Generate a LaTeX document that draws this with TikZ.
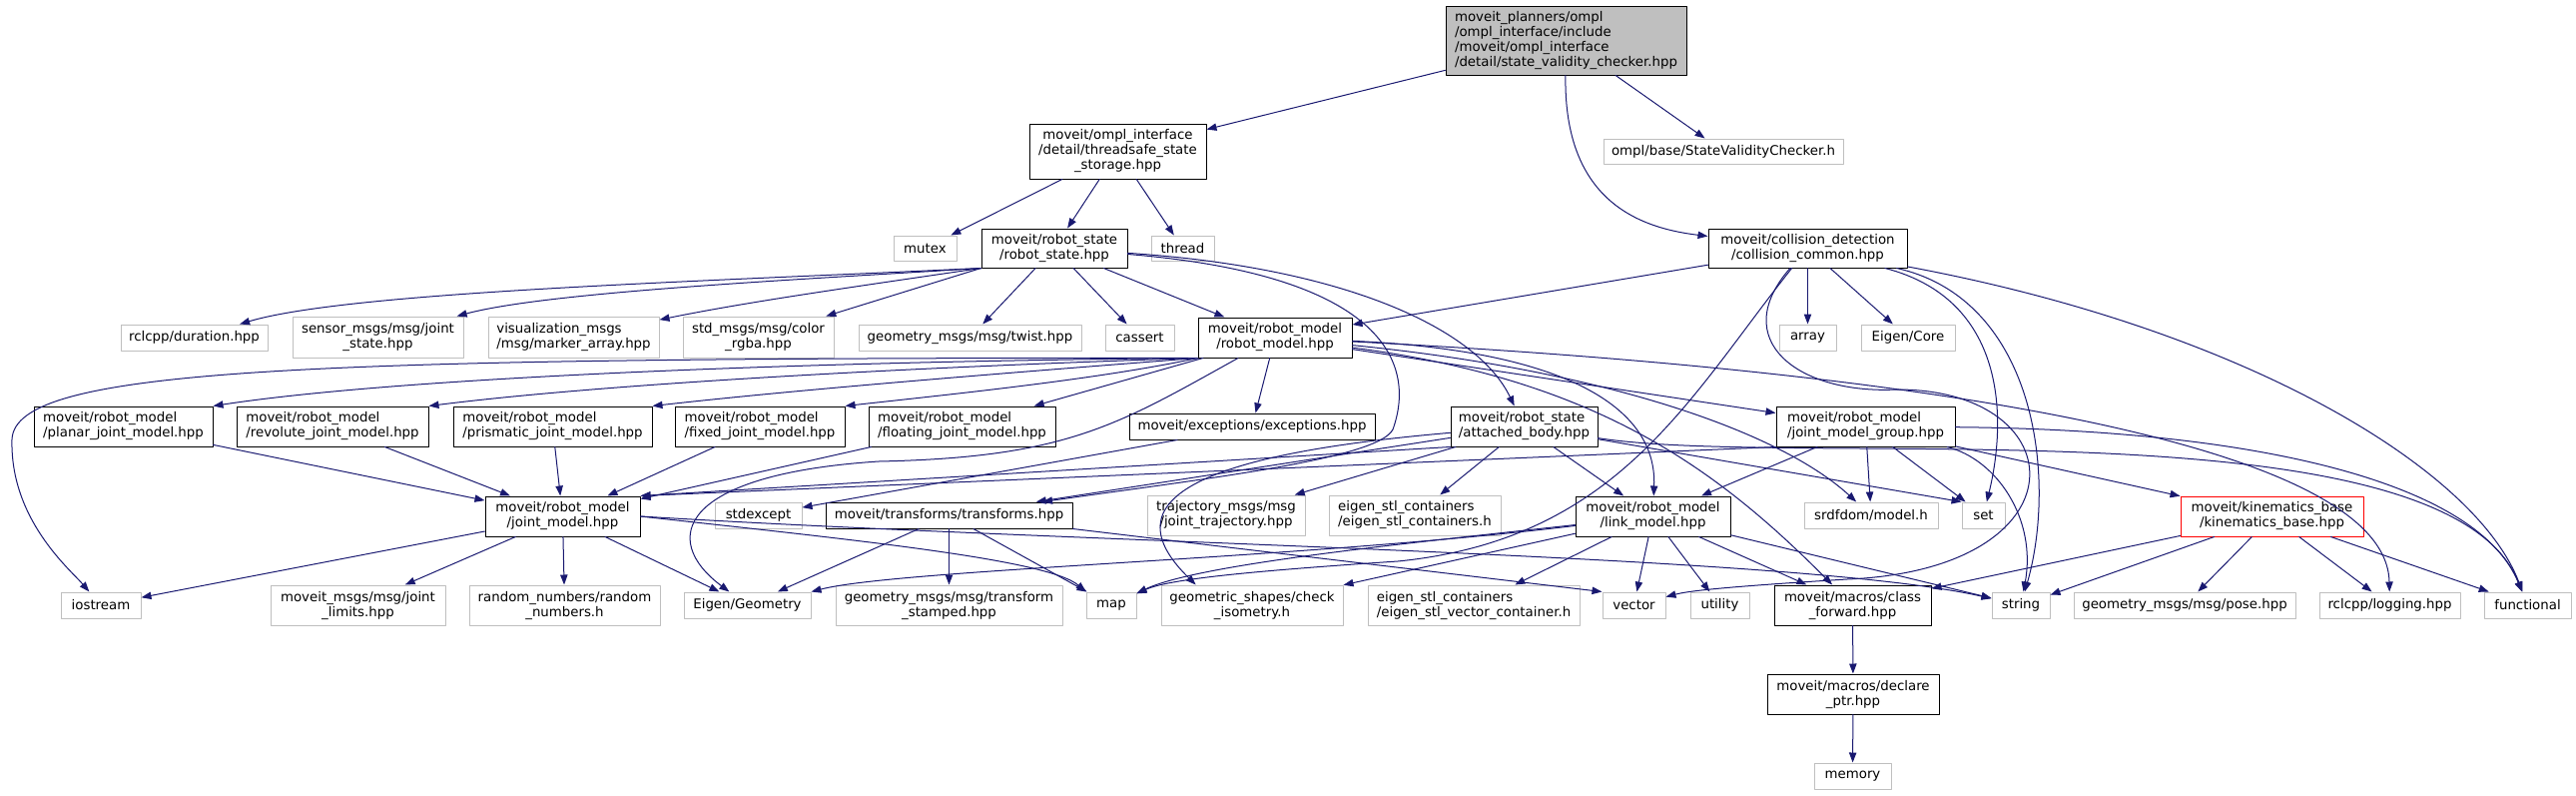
\documentclass[tikz,border=0pt]{standalone}
\usepackage{fontspec}
\setmainfont{DejaVu Sans}
\usetikzlibrary{arrows.meta}
\definecolor{mnblue}{rgb}{0.098,0.098,0.439}
\definecolor{bfgray}{rgb}{0.749,0.749,0.749}
\definecolor{redbd}{rgb}{1.,0.,0.}

\begin{document}
\begin{tikzpicture}[line cap=round,line join=round,x=0.75pt,y=-0.75pt,
	>={Triangle[length=7.5pt,width=5.5pt]},
	incbox/.style={draw=black,line width=0.75pt,inner sep=0pt,align=center,font=\fontsize{10}{11.25}\selectfont},
	sysbox/.style={incbox,draw=bfgray},
	sz/.style 2 args={minimum width=#1*0.75pt,minimum height=#2*0.75pt},
	dep/.style={->,draw=mnblue,line width=0.75pt}]
	\useasboundingbox (0,0) rectangle (2580,796);
	% row 0-1
	\node[incbox,fill=bfgray,align=left,sz={241}{69}] (root) at (1568.5,40.5) {moveit\_planners/ompl\\/ompl\_interface/include\\/moveit/ompl\_interface\\/detail/state\_validity\_checker.hpp};
	\node[incbox,sz={177}{55}] (tss) at (1119.5,151.5) {moveit/ompl\_interface\\/detail/threadsafe\_state\\\_storage.hpp};
	\node[sysbox,sz={240}{25}] (svc) at (1726,151.5) {ompl/base/StateValidityChecker.h};
	% row 2
	\node[sysbox,sz={63}{25}] (mutex) at (926.5,248.5) {mutex};
	\node[incbox,sz={146}{39}] (rs) at (1056,248.5) {moveit/robot\_state\\/robot\_state.hpp};
	\node[sysbox,sz={63}{25}] (thread) at (1184.5,248.5) {thread};
	\node[incbox,sz={199}{39}] (cc) at (1810.5,248.5) {moveit/collision\_detection\\/collision\_common.hpp};
	% row 3
	\node[sysbox,sz={147}{26}] (duration) at (194.5,338) {rclcpp/duration.hpp};
	\node[sysbox,sz={171}{41}] (jointstate) at (378.5,337.5) {sensor\_msgs/msg/joint\\\_state.hpp};
	\node[sysbox,align=left,sz={171}{41}] (marker) at (574.5,337.5) {visualization\_msgs\\/msg/marker\_array.hpp};
	\node[sysbox,sz={151}{41}] (rgba) at (759.5,337.5) {std\_msgs/msg/color\\\_rgba.hpp};
	\node[sysbox,sz={223}{26}] (twist) at (971.5,338) {geometry\_msgs/msg/twist.hpp};
	\node[sysbox,sz={69}{26}] (cassert) at (1141.5,338) {cassert};
	\node[incbox,sz={154}{40}] (rm) at (1277,338) {moveit/robot\_model\\/robot\_model.hpp};
	\node[sysbox,sz={57}{26}] (array) at (1810.5,338) {array};
	\node[sysbox,sz={94}{26}] (core) at (1911,338) {Eigen/Core};
	% row 4
	\node[incbox,align=left,sz={179}{40}] (planar) at (123.5,427) {moveit/robot\_model\\/planar\_joint\_model.hpp};
	\node[incbox,align=left,sz={192}{40}] (revolute) at (333,427) {moveit/robot\_model\\/revolute\_joint\_model.hpp};
	\node[incbox,align=left,sz={199}{40}] (prismatic) at (553.5,427) {moveit/robot\_model\\/prismatic\_joint\_model.hpp};
	\node[incbox,align=left,sz={170}{40}] (fixed) at (761,427) {moveit/robot\_model\\/fixed\_joint\_model.hpp};
	\node[incbox,align=left,sz={187}{40}] (floating) at (963.5,427) {moveit/robot\_model\\/floating\_joint\_model.hpp};
	\node[incbox,sz={246}{26}] (exceptions) at (1254,427) {moveit/exceptions/exceptions.hpp};
	\node[incbox,align=left,sz={147}{40}] (ab) at (1526.5,427) {moveit/robot\_state\\/attached\_body.hpp};
	\node[incbox,align=left,sz={179}{40}] (jmg) at (1868.5,427) {moveit/robot\_model\\/joint\_model\_group.hpp};
	% row 5
	\node[incbox,sz={155}{40}] (jm) at (563.5,517) {moveit/robot\_model\\/joint\_model.hpp};
	\node[sysbox,sz={87}{26}] (stdexcept) at (759.5,516) {stdexcept};
	\node[incbox,sz={247}{26}] (tf) at (950.5,516) {moveit/transforms/transforms.hpp};
	\node[sysbox,sz={158}{40}] (traj) at (1228,516) {trajectory\_msgs/msg\\/joint\_trajectory.hpp};
	\node[sysbox,align=left,sz={172}{40}] (esc) at (1417,516) {eigen\_stl\_containers\\/eigen\_stl\_containers.h};
	\node[incbox,sz={155}{40}] (lm) at (1655.5,517) {moveit/robot\_model\\/link\_model.hpp};
	\node[sysbox,sz={134}{26}] (srdf) at (1874,516) {srdfdom/model.h};
	\node[sysbox,sz={43}{26}] (set) at (1986.5,516) {set};
	\node[incbox,draw=redbd,sz={183}{40}] (kb) at (2275.5,517) {moveit/kinematics\_base\\/kinematics\_base.hpp};
	% row 6
	\node[sysbox,sz={80}{26}] (iostream) at (101,606) {iostream};
	\node[sysbox,sz={175}{40}] (limits) at (358.5,606) {moveit\_msgs/msg/joint\\\_limits.hpp};
	\node[sysbox,sz={191}{40}] (random) at (565.5,606) {random\_numbers/random\\\_numbers.h};
	\node[sysbox,sz={127}{26}] (geom) at (748.5,606) {Eigen/Geometry};
	\node[sysbox,sz={227}{40}] (tfstamped) at (950.5,606) {geometry\_msgs/msg/transform\\\_stamped.hpp};
	\node[sysbox,sz={50}{26}] (map) at (1113,606) {map};
	\node[sysbox,sz={182}{40}] (iso) at (1254,606) {geometric\_shapes/check\\\_isometry.h};
	\node[sysbox,align=left,sz={212}{40}] (esvc) at (1476,606) {eigen\_stl\_containers\\/eigen\_stl\_vector\_container.h};
	\node[sysbox,sz={63}{26}] (vector) at (1636.5,606) {vector};
	\node[sysbox,sz={59}{26}] (utility) at (1722.5,606) {utility};
	\node[incbox,sz={157}{40}] (cf) at (1855.5,606) {moveit/macros/class\\\_forward.hpp};
	\node[sysbox,sz={58}{26}] (string) at (2024,606) {string};
	\node[sysbox,sz={222}{26}] (pose) at (2188,606) {geometry\_msgs/msg/pose.hpp};
	\node[sysbox,sz={141}{26}] (logging) at (2393.5,606) {rclcpp/logging.hpp};
	\node[sysbox,sz={87}{26}] (functional) at (2531.5,606) {functional};
	% rows 7-8
	\node[incbox,sz={172}{40}] (dp) at (1856,695) {moveit/macros/declare\\\_ptr.hpp};
	\node[sysbox,sz={77}{26}] (memory) at (1855.5,777) {memory};
	% root and state storage
	\draw[dep] (root) -- (tss);
	\draw[dep] (root) -- (svc);
	\draw[dep] (root) .. controls (1566,200) and (1640,228) .. (cc);
	\draw[dep] (tss) -- (mutex);
	\draw[dep] (tss) -- (rs);
	\draw[dep] (tss) -- (thread);
	% robot_state.hpp
	\draw[dep] (rs.south west) .. controls (700,282) and (350,292) .. (duration);
	\draw[dep] (rs.south west) .. controls (800,280) and (550,292) .. (jointstate);
	\draw[dep] (rs.south west) .. controls (850,288) and (750,302) .. (marker);
	\draw[dep] (rs.south west) -- (rgba);
	\draw[dep] (rs) -- (twist);
	\draw[dep] (rs) -- (cassert);
	\draw[dep] (rs) -- (rm);
	\draw[dep] (rs) .. controls (1350,268) and (1480,330) .. (ab);
	\draw[dep] (rs) .. controls (1380,275) and (1420,360) .. (1395,430) .. controls (1380,460) and (1200,480) .. (tf);
	% collision_common.hpp
	\draw[dep] (cc) -- (rm);
	\draw[dep] (cc) -- (array);
	\draw[dep] (cc) -- (core);
	\draw[dep] (cc) .. controls (2010,300) and (2010,420) .. (set);
	\draw[dep] (cc) .. controls (2040,300) and (2060,480) .. (string);
	\draw[dep] (cc) .. controls (2250,330) and (2480,470) .. (functional);
	\draw[dep] (cc) .. controls (1690,400) and (1620,540) .. (1400,562) .. controls (1250,572) and (1170,580) .. (map);
	\draw[dep] (cc) .. controls (1730,340) and (1800,395) .. (1900,390) .. controls (2080,390) and (2090,570) .. (1850,580) .. controls (1720,588) and (1690,592) .. (vector);
	% robot_model.hpp
	\draw[dep] (rm.south west) .. controls (800,362) and (400,378) .. (planar.north east);
	\draw[dep] (rm.south west) .. controls (900,368) and (600,385) .. (revolute.north east);
	\draw[dep] (rm.south west) .. controls (1000,374) and (800,390) .. (prismatic.north east);
	\draw[dep] (rm.south west) .. controls (1100,380) and (950,395) .. (fixed.north east);
	\draw[dep] (rm) -- (floating);
	\draw[dep] (rm) -- (exceptions);
	\draw[dep] (rm) -- (jmg);
	\draw[dep] (rm) .. controls (1550,350) and (1660,400) .. (lm);
	\draw[dep] (rm) .. controls (1600,370) and (1780,430) .. (srdf);
	\draw[dep] (rm) .. controls (1600,380) and (1720,470) .. (cf);
	\draw[dep] (rm) .. controls (1900,370) and (2390,440) .. (logging);
	\draw[dep] (rm.south west) .. controls (300,358) and (15,368) .. (12,440) .. controls (10,520) and (70,570) .. (iostream);
	\draw[dep] (rm) .. controls (1120,425) and (1070,458) .. (880,462) .. controls (680,475) and (660,540) .. (geom);
	% joint models
	\draw[dep] (planar) -- (jm);
	\draw[dep] (revolute) -- (jm);
	\draw[dep] (prismatic) -- (jm);
	\draw[dep] (fixed) -- (jm);
	\draw[dep] (floating) -- (jm);
	\draw[dep] (jmg.south west) -- (jm.north east);
	\draw[dep] (ab.south west) -- (jm.north east);
	\draw[dep] (exceptions) -- (stdexcept);
	% attached_body.hpp
	\draw[dep] (ab) -- (tf);
	\draw[dep] (ab) -- (traj);
	\draw[dep] (ab) -- (esc);
	\draw[dep] (ab) -- (lm);
	\draw[dep] (ab) -- (set.north west);
	\draw[dep] (ab) .. controls (1200,455) and (1110,500) .. (iso.160);
	\draw[dep] (ab) .. controls (1800,470) and (2450,400) .. (functional);
	% joint_model_group.hpp
	\draw[dep] (jmg) -- (lm);
	\draw[dep] (jmg) -- (srdf);
	\draw[dep] (jmg) -- (set);
	\draw[dep] (jmg) -- (kb);
	\draw[dep] (jmg) .. controls (2000,460) and (2040,520) .. (string);
	\draw[dep] (jmg) .. controls (2250,430) and (2480,480) .. (functional);
	% joint_model.hpp
	\draw[dep] (jm) -- (iostream);
	\draw[dep] (jm) -- (limits);
	\draw[dep] (jm) -- (random);
	\draw[dep] (jm) -- (geom);
	\draw[dep] (jm.east) .. controls (850,540) and (1050,560) .. (map.north west);
	\draw[dep] (jm.east) .. controls (1100,545) and (1800,555) .. (string);
	% transforms.hpp
	\draw[dep] (tf) -- (geom);
	\draw[dep] (tf) -- (tfstamped);
	\draw[dep] (tf) -- (map);
	\draw[dep] (tf.south east) -- (vector.north west);
	% link_model.hpp
	\draw[dep] (lm) .. controls (1300,560) and (900,570) .. (geom.north east);
	\draw[dep] (lm) .. controls (1400,545) and (1200,565) .. (map);
	\draw[dep] (lm) -- (iso);
	\draw[dep] (lm) -- (esvc);
	\draw[dep] (lm) -- (vector);
	\draw[dep] (lm) -- (utility);
	\draw[dep] (lm) -- (cf);
	\draw[dep] (lm) -- (string);
	% kinematics_base.hpp
	\draw[dep] (kb) -- (cf);
	\draw[dep] (kb) -- (string);
	\draw[dep] (kb) -- (pose);
	\draw[dep] (kb) -- (logging);
	\draw[dep] (kb) -- (functional);
	% macros
	\draw[dep] (cf) -- (dp);
	\draw[dep] (dp) -- (memory);
\end{tikzpicture}
\end{document}
